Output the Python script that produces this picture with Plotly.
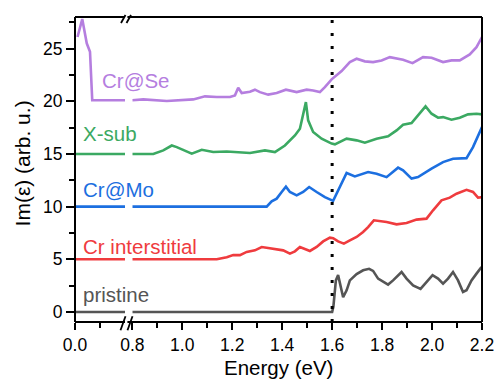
import plotly.graph_objects as go

# ---------------- data ----------------
# left segment (0.0 - 0.2 eV)
left_e = [0.0, 0.2]
pristine_left = [0.0, 0.0]
inter_left = [5.0, 5.0]
mo_left = [10.0, 10.0]
xsub_left = [15.0, 15.0]
se_left_e = [0.01, 0.029, 0.047, 0.06, 0.069, 0.2]
se_left = [26.1, 27.8, 25.5, 24.7, 20.1, 20.1]

# right segment (0.8 - 2.2 eV)
pristine_e = [0.8, 1.6, 1.605, 1.615, 1.624, 1.634, 1.644, 1.658, 1.671, 1.698, 1.724, 1.748, 1.764,
              1.784, 1.804, 1.824, 1.844, 1.878, 1.898, 1.924, 1.954, 1.978, 2.002, 2.024, 2.044,
              2.064, 2.084, 2.104, 2.124, 2.138, 2.158, 2.178, 2.198]
pristine_v = [0.0, 0.0, 0.5, 3.0, 3.5, 2.5, 1.4, 2.06, 3.0, 3.6, 3.96, 4.1, 3.9,
              3.17, 2.85, 2.6, 3.0, 3.8, 3.17, 2.53, 2.2, 2.85, 3.5, 3.17, 2.7,
              3.17, 3.8, 3.0, 1.9, 2.06, 3.0, 3.64, 4.27]

inter_e = [0.8, 1.138, 1.178, 1.204, 1.231, 1.258, 1.291, 1.318, 1.344, 1.378, 1.404, 1.431, 1.451,
           1.471, 1.491, 1.511, 1.538, 1.564, 1.591, 1.604, 1.624, 1.647, 1.671, 1.698, 1.724,
           1.744, 1.767, 1.791, 1.818, 1.858, 1.898, 1.938, 1.978, 2.004, 2.038, 2.071, 2.098,
           2.138, 2.164, 2.184, 2.2]
inter_v = [5.0, 5.0, 5.2, 5.4, 5.4, 5.7, 5.85, 6.17, 6.07, 5.92, 5.85, 5.54, 5.76,
           6.17, 6.0, 5.79, 6.17, 6.7, 7.06, 7.0, 6.7, 6.49, 6.8, 7.12, 7.59,
           8.06, 8.7, 8.63, 8.54, 8.32, 8.44, 8.77, 8.86, 9.65, 10.6, 10.85, 11.23,
           11.6, 11.39, 10.85, 10.9]

mo_e = [0.8, 1.338, 1.358, 1.378, 1.398, 1.415, 1.431, 1.458, 1.484, 1.508, 1.538, 1.571, 1.604,
        1.631, 1.658, 1.691, 1.744, 1.778, 1.818, 1.864, 1.884, 1.918, 1.944, 1.998, 2.044,
        2.084, 2.138, 2.164, 2.2]
mo_v = [10.0, 10.0, 10.5, 10.76, 11.39, 11.9, 11.39, 11.07, 11.39, 11.86, 11.39, 10.9, 10.55,
        11.86, 13.19, 12.87, 13.28, 13.13, 12.8, 13.7, 13.44, 12.66, 12.8, 13.6, 14.23,
        14.55, 14.6, 15.65, 17.55]

xsub_e = [0.8, 0.884, 0.924, 0.958, 0.978, 1.011, 1.038, 1.078, 1.124, 1.178, 1.231, 1.271, 1.331,
          1.371, 1.411, 1.451, 1.471, 1.484, 1.495, 1.504, 1.524, 1.558, 1.598, 1.611, 1.658,
          1.698, 1.731, 1.778, 1.824, 1.858, 1.884, 1.918, 1.944, 1.974, 1.998, 2.024, 2.044,
          2.078, 2.111, 2.144, 2.178, 2.2]
xsub_v = [15.0, 15.0, 15.34, 15.8, 15.65, 15.28, 15.03, 15.4, 15.18, 15.24, 15.12, 15.09, 15.34,
          15.18, 15.8, 16.76, 17.4, 18.82, 19.92, 18.19, 17.08, 16.45, 15.98, 15.91, 16.45,
          16.29, 16.07, 16.45, 16.67, 17.24, 17.78, 17.93, 18.66, 19.52, 18.82, 18.44, 18.5,
          18.25, 18.44, 18.76, 18.82, 18.76]

se_e = [0.8, 0.844, 0.938, 1.044, 1.091, 1.138, 1.191, 1.211, 1.224, 1.238, 1.271, 1.291, 1.311,
        1.344, 1.378, 1.415, 1.458, 1.498, 1.524, 1.551, 1.571, 1.598, 1.638, 1.671, 1.698,
        1.731, 1.764, 1.798, 1.831, 1.884, 1.922, 1.964, 1.998, 2.044, 2.078, 2.111, 2.151,
        2.178, 2.2]
se_v = [20.1, 20.18, 20.02, 20.18, 20.47, 20.4, 20.4, 20.56, 21.29, 20.78, 20.9, 21.1, 20.87,
        20.63, 20.78, 21.1, 20.87, 21.1, 21.03, 20.87, 21.35, 22.08, 22.87, 23.72, 24.04,
        23.79, 23.72, 23.88, 24.19, 23.94, 23.62, 24.19, 24.13, 23.72, 23.88, 23.88, 24.45,
        25.14, 26.09]

labels = ["pristine", "Cr interstitial", "Cr@Mo", "X-sub", "Cr@Se"]
label_pos_e = [0.025, 0.025, 0.025, 0.025, 0.101]
label_pos_v = [1.65, 6.2, 11.6, 16.9, 22.0]
colors = ["#555555", "#EF3B3E", "#1C6FE0", "#3BA962", "#B57EDF"]
edge_energy = 1.6

left_sets = [(left_e, pristine_left), (left_e, inter_left), (left_e, mo_left),
             (left_e, xsub_left), (se_left_e, se_left)]
right_sets = [(pristine_e, pristine_v), (inter_e, inter_v), (mo_e, mo_v),
              (xsub_e, xsub_v), (se_e, se_v)]

# ---------------- figure ----------------
L, R, T, B = 75, 17, 16.5, 62.3
W, H = 499, 384
pw, ph = W - L - R, H - T - B

def px(x):
    return (x - L) / pw

def py(y):
    return (H - B - y) / ph

d1 = px(125)
d2 = px(132.3)

fig = go.Figure()
for (xl, yl), (xr, yr), c, name in zip(left_sets, right_sets, colors, labels):
    fig.add_trace(go.Scatter(x=xl, y=yl, xaxis="x", yaxis="y", mode="lines",
                             line=dict(color=c, width=2.6), showlegend=False, name=name))
    fig.add_trace(go.Scatter(x=xr, y=yr, xaxis="x2", yaxis="y", mode="lines",
                             line=dict(color=c, width=2.6), showlegend=False, name=name))

font_family = "Liberation Sans, Arial, sans-serif"
tickfont = dict(family=font_family, size=17.5, color="black")

fig.update_layout(
    width=W, height=H,
    margin=dict(l=L, r=R, t=T, b=B, autoexpand=False),
    showlegend=False,
    plot_bgcolor="white", paper_bgcolor="white",
    font=dict(family=font_family, color="black"),
    xaxis=dict(domain=[0, d1], range=[0, 0.2], tickvals=[0], ticktext=["0.0"],
               ticks="outside", ticklen=7, tickwidth=1.5, tickcolor="black", automargin=False,
               minor=dict(tickvals=[0.1], ticks="outside", ticklen=5, tickwidth=1.5, tickcolor="black"),
               showgrid=False, zeroline=False, showline=False, tickfont=tickfont),
    xaxis2=dict(domain=[d2, 1], range=[0.8, 2.2], tick0=0.8, dtick=0.2, tickformat=".1f",
                ticks="outside", ticklen=7, tickwidth=1.5, tickcolor="black", automargin=False,
                minor=dict(dtick=0.1, ticks="outside", ticklen=5, tickwidth=1.5, tickcolor="black"),
                showgrid=False, zeroline=False, showline=False, tickfont=tickfont, anchor="y"),
    yaxis=dict(range=[-0.95, 28.0], tick0=0, dtick=5, automargin=False,
               ticks="outside", ticklen=8, tickwidth=1.5, tickcolor="black",
               minor=dict(dtick=2.5, ticks="outside", ticklen=5, tickwidth=1.5, tickcolor="black"),
               showgrid=False, zeroline=False, showline=False, tickfont=tickfont),
)

fig.add_annotation(xref="paper", yref="paper", x=px(278.5), y=py(367), xanchor="center", yanchor="middle",
                   text="Energy (eV)", showarrow=False,
                   font=dict(family=font_family, size=20.5, color="black"))

fig.add_annotation(xref="paper", yref="paper", x=px(22), y=py(163), xanchor="center", yanchor="middle",
                   text="Im(ε) (arb. u.)", textangle=-90, showarrow=False,
                   font=dict(family=font_family, size=21, color="black"))

for t, xe, ve, c in zip(labels, label_pos_e, label_pos_v, colors):
    fig.add_annotation(xref="x", yref="y", x=xe, y=ve, xanchor="left", yanchor="middle",
                       text=t, showarrow=False, font=dict(family=font_family, size=20.5, color=c))

# dotted vertical line at the edge
fig.add_shape(type="line", xref="x2", yref="paper", x0=edge_energy, x1=edge_energy, y0=0, y1=1,
              line=dict(color="black", width=3, dash="3px,10px"))

# frame
lw = 2
frame = [((0, 0), (d1, 0)), ((d2 - 0.012, 0), (1, 0)),
         ((0, 1), (d1, 1)), ((d2 - 0.012, 1), (1, 1)),
         ((0, 0), (0, 1)), ((1, 0), (1, 1))]
for (x0, y0), (x1, y1) in frame:
    fig.add_shape(type="line", xref="paper", yref="paper", x0=x0, y0=y0, x1=x1, y1=y1,
                  line=dict(color="black", width=lw))

# axis-break marks
for (x0, y0, x1, y1) in [(120.5, 330, 125.5, 316), (127.5, 330, 132.5, 316),
                         (121, 22.5, 125.5, 14.5), (126.5, 22.5, 131, 14.5)]:
    fig.add_shape(type="line", xref="paper", yref="paper", x0=px(x0), y0=py(y0), x1=px(x1), y1=py(y1),
                  line=dict(color="black", width=1.8))

fig.write_html("out.html")
